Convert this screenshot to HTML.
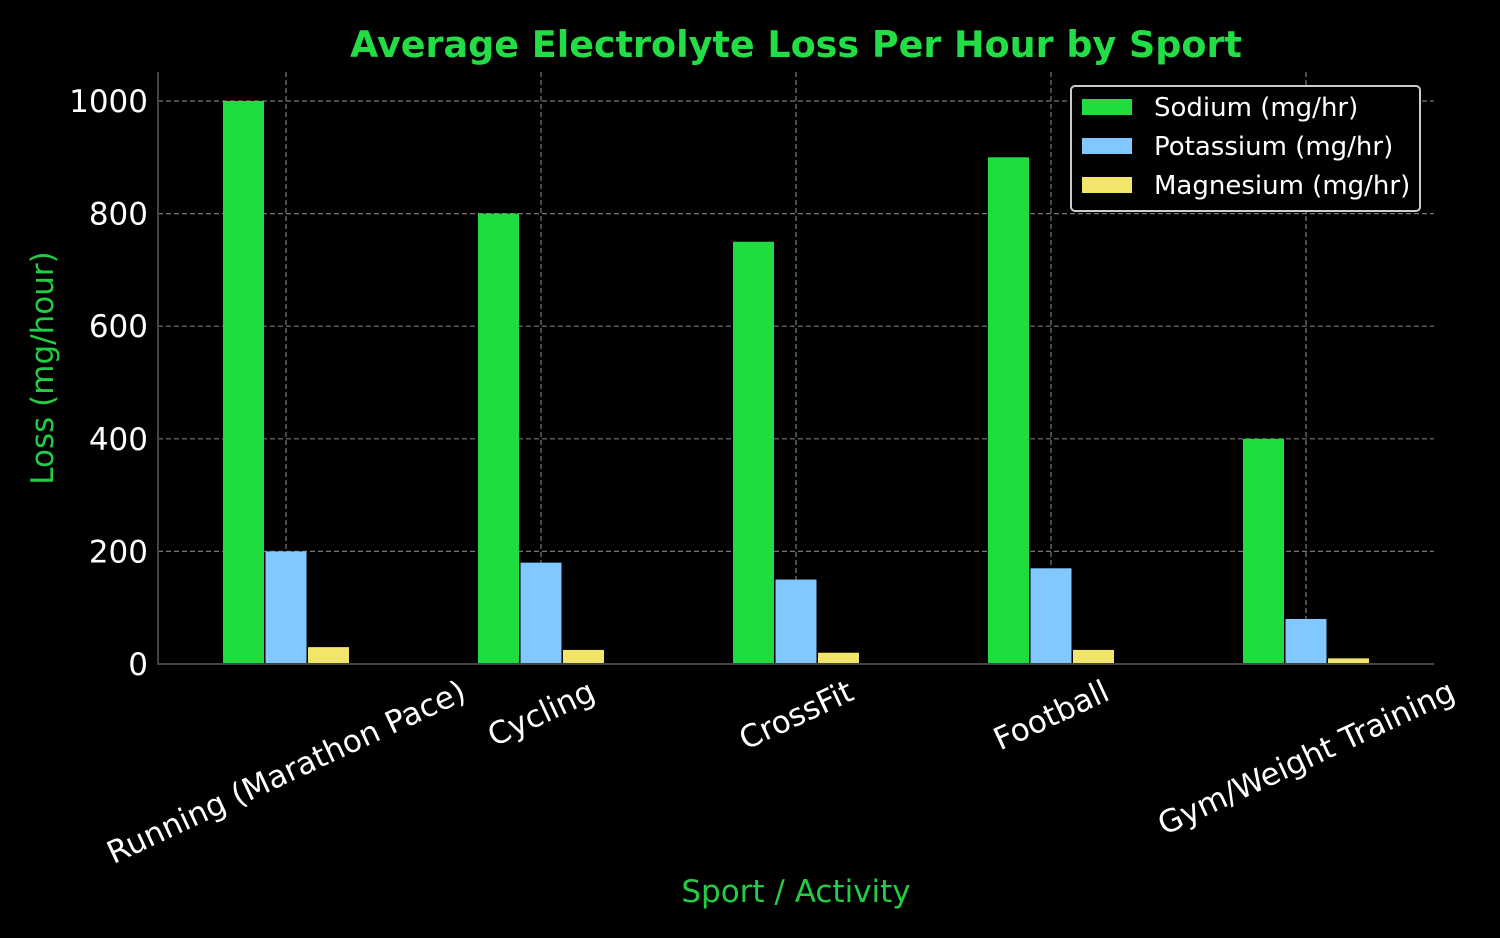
<!DOCTYPE html>
<html><head><meta charset="utf-8"><style>
body{margin:0;background:#000;}
svg{display:block;font-family:"DejaVu Sans","Liberation Sans",sans-serif;}
</style></head><body>
<svg id="chart" width="1500" height="938" viewBox="0 0 1500 938">
<rect width="1500" height="938" fill="#000"/>
<text x="796" y="57" text-anchor="middle" font-size="36.5" font-weight="bold" fill="#22dd44">Average Electrolyte Loss Per Hour by Sport</text>
<g id="grid"></g><g id="bars"></g><g id="axes"></g>
<text transform="translate(53,368) rotate(-90)" text-anchor="middle" font-size="31" fill="#22cc44">Loss (mg/hour)</text>
<text x="796" y="902" text-anchor="middle" font-size="31" fill="#22cc44">Sport / Activity</text>
<g>
<rect x="1071" y="86" width="349" height="125" rx="4" fill="#000" stroke="#ccc" stroke-width="2"/>
<rect x="1082" y="99" width="50" height="16" fill="#1fdd3f"/>
<text x="1154" y="116" font-size="26" fill="#fff">Sodium (mg/hr)</text>
<rect x="1082" y="138" width="50" height="16" fill="#80c8ff"/>
<text x="1154" y="155" font-size="26" fill="#fff">Potassium (mg/hr)</text>
<rect x="1082" y="177" width="50" height="16" fill="#f2e66a"/>
<text x="1154" y="194" font-size="26" fill="#fff">Magnesium (mg/hr)</text>
</g>
</svg>
<script>
const categories=["Running (Marathon Pace)","Cycling","CrossFit","Football","Gym/Weight Training"];
const sodium=[1000,800,750,900,400];
const potassium=[200,180,150,170,80];
const magnesium=[30,25,20,25,10];
const yTicks=[0,200,400,600,800,1000];
const NS="http://www.w3.org/2000/svg";
const x0=286,step=255,y0=664,yk=0.563;
const xs=i=>x0+i*step, ys=v=>y0-v*yk;
function mk(t,a,p){const e=document.createElementNS(NS,t);for(const k in a)e.setAttribute(k,a[k]);p.appendChild(e);return e;}
const grid=document.getElementById('grid'),bars=document.getElementById('bars'),axes=document.getElementById('axes');
yTicks.forEach(v=>{
 if(v>0){const l=mk('line',{x1:158,x2:1434,y1:ys(v),y2:ys(v),stroke:'#777','stroke-dasharray':'5,3','stroke-width':1.2},grid);
 
 }
 const t=mk('text',{x:148,y:ys(v)+11,'text-anchor':'end','font-size':31,fill:'#fff'},axes);t.textContent=v;
 
 
});
categories.forEach((c,i)=>{
 const l=mk('line',{x1:xs(i),x2:xs(i),y1:72,y2:664,stroke:'#777','stroke-dasharray':'5,3','stroke-width':1.2},grid);
 
 
});
const series=[[sodium,'#1fdd3f',-42.5,'sodium'],[potassium,'#80c8ff',0,'potassium'],[magnesium,'#f2e66a',42.5,'magnesium']];
series.forEach(([vals,col,off,nm])=>{
 vals.forEach((v,i)=>{
  const r=mk('rect',{x:xs(i)+off-20.5,y:ys(v),width:41,height:v*yk,fill:col},bars);
  
  
 });
});
mk('line',{x1:158,x2:158,y1:72,y2:665,stroke:'#444','stroke-width':2},axes);
mk('line',{x1:158,x2:1434,y1:664,y2:664,stroke:'#444','stroke-width':2},axes);
categories.forEach((c,i)=>{
 const t=mk('text',{x:0,y:0,'text-anchor':'middle','font-size':31,fill:'#fff'},axes);
 t.textContent=c;
 
 
 const L=t.getComputedTextLength();
 const s=Math.sin(25*Math.PI/180),co=Math.cos(25*Math.PI/180);
 const cy=674+(L*s+33*co)/2;
 t.setAttribute('transform','translate('+xs(i)+','+cy+') rotate(-25) translate(0,11)');
});
</script>
</body></html>
